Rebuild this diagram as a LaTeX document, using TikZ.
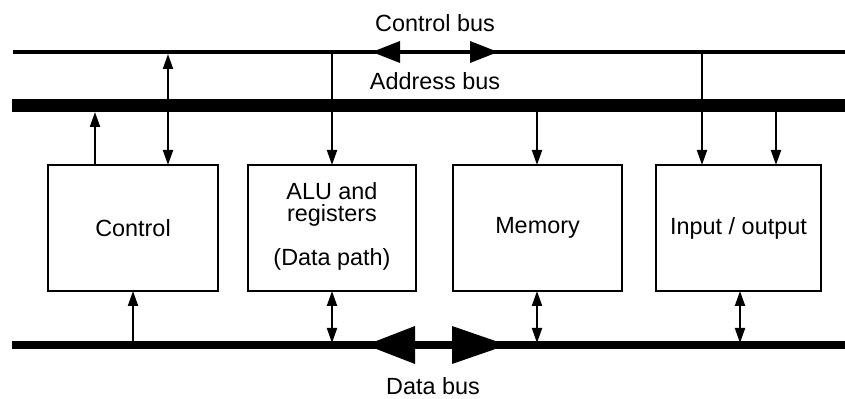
\documentclass[tikz,border=0pt]{standalone}
\usepackage{fontspec}
\setmainfont{Liberation Sans}
\usetikzlibrary{arrows.meta}
\tikzset{
  unit/.style={draw, line width=1.2pt, inner sep=0pt, outer sep=0pt, minimum height=63pt, align=center, font=\fontsize{11.7}{13}\selectfont},
  buslabel/.style={inner sep=0pt, align=center, font=\fontsize{11.7}{11}\selectfont},
  conn/.style={line width=1pt, >={Triangle[length=7.5pt,width=5pt]}},
  busline/.style={line cap=butt},
}
\begin{document}
\begin{tikzpicture}[x=0.5pt,y=-0.5pt]
\useasboundingbox (0,0) rectangle (845,399);
% bus end points
\coordinate (cbL) at (13,52);   \coordinate (cbR) at (845,52);
\coordinate (abL) at (12,106);  \coordinate (abR) at (845,106);
\coordinate (dbL) at (12,345);  \coordinate (dbR) at (845,345);
% buses
\draw[busline, line width=2.2pt] (cbL) -- (cbR);
\draw[busline, line width=6.5pt] (abL) -- (abR);
\draw[busline, line width=4pt] (dbL) -- (dbR);
% big bus arrows
\fill (372,52) -- (400,41) -- (400,63) -- cycle;
\fill (470,41) -- (498,52) -- (470,63) -- cycle;
\fill (366,345) -- (415,326) -- (415,364) -- cycle;
\fill (452,326) -- (507,345) -- (452,364) -- cycle;
% labels
\node[buslabel] (lcb) at (435,23) {Control bus};
\node[buslabel] (lab) at (435,81) {Address bus};
\node[buslabel] (ldb) at (433,386) {Data bus};
% units
\node[unit, minimum width=85pt] (ctrl) at (133,228) {Control};
\node[unit, minimum width=84pt] (alu) at (332,228) {};
\node[unit, minimum width=84.5pt] (mem) at (537.5,228) {Memory};
\node[unit, minimum width=82.5pt] (io) at (738.5,228) {Input / output};
\node[buslabel] (alu1) at (332,204) {ALU and\\registers};
\node[buslabel] (alu3) at (332,259) {(Data path)};
% connector ends on the buses
\coordinate (a1) at (95,112);
\coordinate (c1) at (168,54);
\coordinate (c2) at (332,54);
\coordinate (a2) at (537,112);
\coordinate (c3) at (702,54);
\coordinate (a3) at (776,112);
\coordinate (d1) at (133,343);
\coordinate (d2) at (332,343);
\coordinate (d3) at (537,343);
\coordinate (d4) at (740,343);
% top connectors
\draw[conn,->] (ctrl.north -| a1) -- (a1);
\draw[conn,<->] (c1) -- (ctrl.north -| c1);
\draw[conn,->] (c2) -- (alu.north -| c2);
\draw[conn,->] (a2) -- (mem.north -| a2);
\draw[conn,->] (c3) -- (io.north -| c3);
\draw[conn,->] (a3) -- (io.north -| a3);
% bottom connectors
\draw[conn,->] (d1) -- (ctrl.south -| d1);
\draw[conn,<->] (d2) -- (alu.south -| d2);
\draw[conn,<->] (d3) -- (mem.south -| d3);
\draw[conn,<->] (d4) -- (io.south -| d4);
\end{tikzpicture}
\end{document}
